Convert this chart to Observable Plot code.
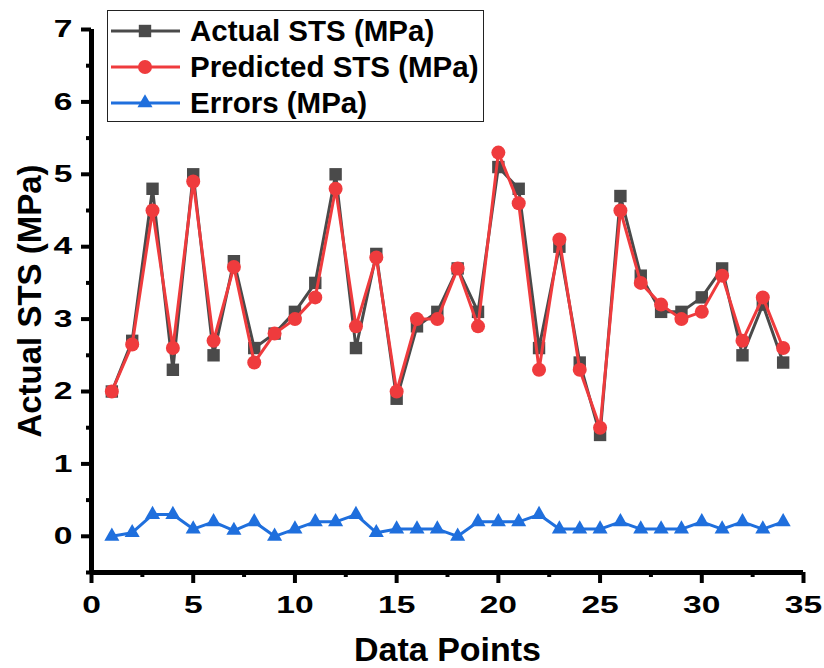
<!DOCTYPE html>
<html>
<head>
<meta charset="utf-8">
<script src="https://cdn.jsdelivr.net/npm/d3@7"></script>
<script src="https://cdn.jsdelivr.net/npm/@observablehq/plot@0.6"></script>
<style>
  html, body { margin: 0; padding: 0; background: #fff; }
  #chart { position: relative; width: 824px; height: 668px; overflow: hidden; font-family: "Liberation Sans", Arial, sans-serif; }
  .legend { position: absolute; left: 107px; top: 10px; width: 377px; height: 112px;
            border: 1.5px solid #222; background: #fff; box-sizing: border-box; }
  .legend .row { position: absolute; left: 0; height: 36px; display: flex; align-items: center; }
  .legend .row span { font-weight: bold; font-size: 29.5px; color: #000; margin-left: 2px; white-space: nowrap; }
</style>
</head>
<body>
<div id="chart"></div>
<script>
// Sample index along the x axis
const dataPoints = [1,2,3,4,5,6,7,8,9,10,11,12,13,14,15,16,17,18,19,20,21,22,23,24,25,26,27,28,29,30,31,32,33,34];

// Split tensile strength, measured vs. model output (MPa)
const actualSTS = [2.0,2.7,4.8,2.3,5.0,2.5,3.8,2.6,2.8,3.1,3.5,5.0,2.6,3.9,1.9,2.9,3.1,3.7,3.1,5.1,4.8,2.6,4.0,2.4,1.4,4.7,3.6,3.1,3.1,3.3,3.7,2.5,3.2,2.4];
const predictedSTS = [2.0,2.65,4.5,2.6,4.9,2.7,3.72,2.4,2.8,3.0,3.3,4.8,2.9,3.85,2.0,3.0,3.0,3.7,2.9,5.3,4.6,2.3,4.1,2.3,1.5,4.5,3.5,3.2,3.0,3.1,3.6,2.7,3.3,2.6];
const errorsMPa = [0,0.05,0.3,0.3,0.1,0.2,0.08,0.2,0,0.1,0.2,0.2,0.3,0.05,0.1,0.1,0.1,0,0.2,0.2,0.2,0.3,0.1,0.1,0.1,0.2,0.1,0.1,0.1,0.2,0.1,0.2,0.1,0.2];

// Series names, colours and marker shapes
const seriesNames = ["Actual STS (MPa)", "Predicted STS (MPa)", "Errors (MPa)"];
const seriesColors = ["#4a4a4a", "#ef3b3d", "#1f6fdd"];
const seriesSymbols = ["square", "circle", "triangle"];
const seriesValues = [actualSTS, predictedSTS, errorsMPa];

// Axis ticks and titles
const xDomain = [0, 35];
const yDomain = [-0.5, 7];
const xTicks = [0, 5, 10, 15, 20, 25, 30, 35];
const xMinorTicks = [2.5, 7.5, 12.5, 17.5, 22.5, 27.5, 32.5];
const yTicks = [0, 1, 2, 3, 4, 5, 6, 7];
const yMinorTicks = [-0.5, 0.5, 1.5, 2.5, 3.5, 4.5, 5.5, 6.5];
const xTitle = "Data Points";
const yTitle = "Actual STS (MPa)";

const series = seriesNames.map((name, i) => ({
  name, color: seriesColors[i], symbol: seriesSymbols[i],
  rows: dataPoints.map((x, j) => ({x, y: seriesValues[i][j]}))
}));

const markSizes = {square: 7, circle: 7, triangle: 5.6};
const bold = {fontWeight: "bold", fill: "#000"};

const marks = [
  // axis lines (left and bottom only)
  Plot.ruleX([xDomain[0]], {stroke: "#000", strokeWidth: 5}),
  Plot.ruleY([yDomain[0]], {stroke: "#000", strokeWidth: 5}),
  Plot.axisY({ticks: yTicks, tickSize: 10, tickPadding: 9, strokeWidth: 4, fontSize: 24, ...bold, label: null, tickFormat: d => String(d)}),
  Plot.axisY({ticks: yMinorTicks, tickSize: 5, strokeWidth: 4, label: null, tickFormat: () => ""}),
  Plot.axisX({ticks: xTicks, tickSize: 11, tickPadding: 12, strokeWidth: 4, fontSize: 24, ...bold, label: null, tickFormat: d => String(d)}),
  Plot.axisX({ticks: xMinorTicks, tickSize: 5, strokeWidth: 4, label: null, tickFormat: () => ""}),
  // axis titles
  Plot.text([yTitle], {frameAnchor: "left", textAnchor: "middle", rotate: -90, dx: -61, fontSize: 33, ...bold, text: d => d}),
  Plot.text([xTitle], {frameAnchor: "bottom", textAnchor: "middle", dy: 88, fontSize: 34, ...bold, text: d => d})
];

for (const s of series) {
  marks.push(Plot.line(s.rows, {x: "x", y: "y", stroke: s.color, strokeWidth: 3}));
  marks.push(Plot.dot(s.rows, {x: "x", y: "y", symbol: () => s.symbol, fill: s.color, stroke: "none", r: markSizes[s.symbol]}));
}

const plot = Plot.plot({
  width: 824,
  height: 668,
  marginLeft: 91,
  marginRight: 21,
  marginTop: 29,
  marginBottom: 96,
  style: {fontFamily: "'Liberation Sans', Arial, sans-serif", background: "#fff", overflow: "visible"},
  x: {domain: xDomain, label: null},
  y: {domain: yDomain, label: null},
  symbol: {type: "identity"},
  marks
});

const root = document.getElementById("chart");
root.appendChild(plot);

// Tick numerals are set in a horizontally widened face
const widen = 1.4;
plot.querySelectorAll('g[aria-label="x-axis tick label"] text, g[aria-label="y-axis tick label"] text').forEach(t => {
  const b = t.getBBox();
  const anchor = (t.closest('g[aria-label="y-axis tick label"]')) ? b.x + b.width : b.x + b.width / 2;
  const prev = t.getAttribute("transform") || "";
  t.setAttribute("transform", `${prev} translate(${anchor},0) scale(${widen},1) translate(${-anchor},0)`);
});

// Legend box
const legend = d3.select(root).append("div").attr("class", "legend");
series.forEach((s, i) => {
  const row = legend.append("div").attr("class", "row").style("top", `${2 + i * 36}px`);
  const svg = row.append("svg").attr("width", 80).attr("height", 36);
  svg.append("line").attr("x1", 3).attr("x2", 72).attr("y1", 18).attr("y2", 18)
    .attr("stroke", s.color).attr("stroke-width", 3);
  const symType = {square: d3.symbolSquare, circle: d3.symbolCircle, triangle: d3.symbolTriangle}[s.symbol];
  const r = markSizes[s.symbol];
  svg.append("path").attr("transform", "translate(37,18)")
    .attr("d", d3.symbol(symType, Math.PI * r * r)()).attr("fill", s.color);
  row.append("span").text(s.name);
});
</script>
</body>
</html>
